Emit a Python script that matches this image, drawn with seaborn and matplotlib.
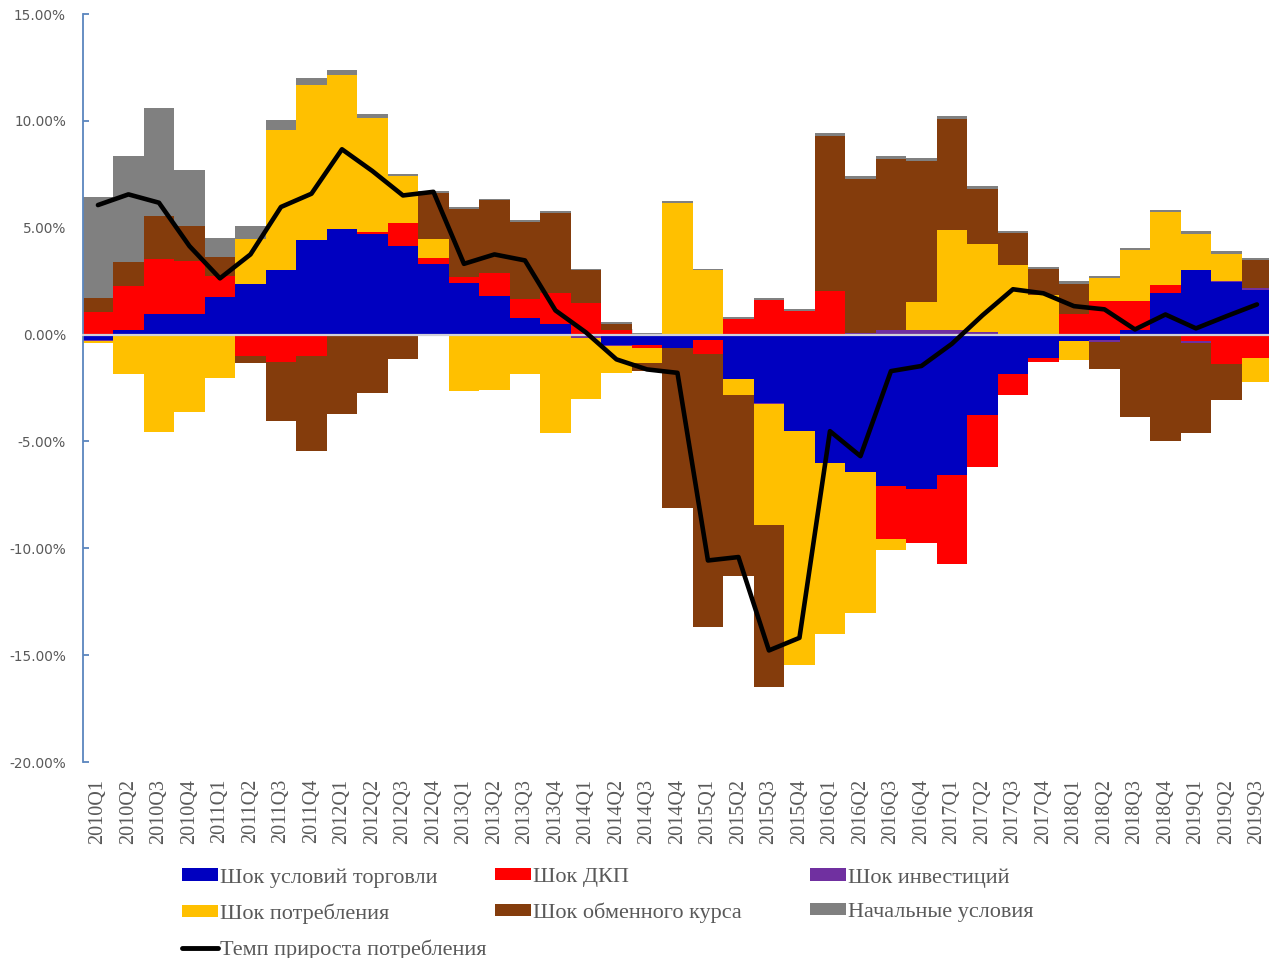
import numpy as np
import pandas as pd
import matplotlib
matplotlib.use("Agg")
import matplotlib.pyplot as plt
from matplotlib.patches import Patch
from matplotlib.lines import Line2D
from matplotlib.ticker import FuncFormatter, MultipleLocator, FixedLocator
import seaborn as sns

# ---- data: shock decomposition of consumption growth, % ----
quarters = [f"{y}Q{q}" for y in range(2010, 2020) for q in range(1, 5)][:39]

terms_of_trade = [-0.25, 0.20, 0.95, 0.95, 1.75, 2.35, 3.00, 4.41, 4.95, 4.69,
                  4.14, 3.28, 2.42, 1.80, 0.79, 0.50, -0.05, -0.50, -0.50, -0.62,
                  -0.26, -2.07, -3.19, -4.52, -6.00, -6.42, -7.09, -7.21, -6.58, -3.78,
                  -1.86, -1.09, -0.30, -0.27, 0.23, 1.95, 3.02, 2.46, 2.07]
monetary = [1.07, 2.06, 2.57, 2.49, 0.99, -1.00, -1.27, -1.00, -0.08, 0.11,
            1.06, 0.31, 0.27, 1.09, 0.89, 1.43, 1.46, 0.20, -0.12, 0.00,
            -0.67, 0.71, 1.61, 1.10, 2.04, 0.00, -2.49, -2.53, -4.17, -2.42,
            -0.97, -0.18, 0.97, 1.57, 1.33, 0.39, -0.31, -1.36, -1.11]
investment = [-0.03, -0.03, -0.02, -0.02, -0.02, 0.02, 0.00, 0.00, 0.00, 0.00,
              0.00, 0.00, 0.00, 0.00, 0.00, 0.00, -0.10, -0.05, 0.00, -0.03,
              0.00, 0.00, -0.05, 0.00, 0.00, 0.08, 0.20, 0.20, 0.23, 0.10,
              0.00, 0.00, 0.00, -0.10, -0.08, -0.08, -0.08, 0.03, 0.09]
consumption = [-0.12, -1.80, -4.52, -3.58, -2.02, 2.10, 6.57, 7.27, 7.19, 5.35,
               2.22, 0.90, -2.64, -2.60, -1.86, -4.62, -2.85, -1.24, -0.70, 6.17,
               3.00, -0.78, -5.66, -10.95, -8.00, -6.63, -0.52, 1.33, 4.68, 4.14,
               3.27, 1.87, -0.90, 1.06, 2.38, 3.40, 1.70, 1.30, -1.11]
exchange_rate = [0.62, 1.13, 2.03, 1.64, 0.89, -0.35, -2.78, -4.45, -3.65, -2.72,
                 -1.12, 2.14, 3.17, 3.39, 3.59, 3.76, 1.57, 0.30, -0.39, -7.45,
                 -12.76, -8.45, -7.60, 0.00, 7.25, 7.20, 8.02, 6.61, 5.20, 2.59,
                 1.48, 1.20, 1.41, -1.23, -3.80, -4.90, -4.23, -1.71, 1.32]
initial = [4.74, 4.96, 5.06, 2.60, 0.90, 0.61, 0.47, 0.34, 0.24, 0.15,
           0.10, 0.11, 0.11, 0.07, 0.07, 0.07, 0.05, 0.08, 0.06, 0.08,
           0.09, 0.11, 0.09, 0.08, 0.12, 0.12, 0.12, 0.12, 0.12, 0.14,
           0.11, 0.11, 0.12, 0.11, 0.11, 0.11, 0.12, 0.14, 0.12]
growth = [6.06, 6.56, 6.17, 4.14, 2.63, 3.75, 5.97, 6.59, 8.67, 7.65,
          6.51, 6.68, 3.31, 3.75, 3.47, 1.13, 0.10, -1.16, -1.63, -1.79,
          -10.57, -10.41, -14.78, -14.19, -4.52, -5.69, -1.71, -1.47, -0.43, 0.90,
          2.12, 1.93, 1.33, 1.18, 0.24, 0.94, 0.29, 0.86, 1.41]

series_names = ["Шок условий торговли", "Шок ДКП", "Шок инвестиций",
                "Шок потребления", "Шок обменного курса", "Начальные условия"]
line_name = "Темп прироста потребления"
series_values = [terms_of_trade, monetary, investment, consumption,
                 exchange_rate, initial]
colors = ["#0000C0", "#FF0000", "#7030A0", "#FFC000", "#843C0C", "#808080"]

# ---- figure ----
sns.set_style("white")
plt.rcParams["font.family"] = ["DejaVu Sans"]

W, H = 1269, 958
fig = plt.figure(figsize=(W / 100, H / 100), dpi=100)
ax_left, ax_top, ax_bottom = 82.7, 14, 762
ax = fig.add_axes([ax_left / W, 1 - ax_bottom / H,
                   (W - ax_left) / W, (ax_bottom - ax_top) / H])

n = len(quarters)
pos_base = np.zeros(n)
neg_base = np.zeros(n)
for name, vals, col in zip(series_names, series_values, colors):
    v = np.asarray(vals, dtype=float)
    pos = np.where(v > 0, v, 0.0)
    neg = np.where(v < 0, v, 0.0)
    sns.barplot(x=quarters, y=pos, order=quarters, bottom=pos_base, color=col,
                width=1.0, saturation=1, errorbar=None, linewidth=0, ax=ax,
                zorder=1)
    sns.barplot(x=quarters, y=neg, order=quarters, bottom=neg_base, color=col,
                width=1.0, saturation=1, errorbar=None, linewidth=0, ax=ax,
                zorder=1)
    pos_base += pos
    neg_base += neg

sns.lineplot(x=np.arange(n), y=growth, color="black", linewidth=3.3,
             ax=ax, zorder=4, sort=False)

# ---- axes styling ----
ax.set_ylim(-20, 15)
ax.set_xlim(-0.5, n - 0.5 - 3.2 / 30.5)
ax.set_xlabel("")
ax.set_ylabel("")
for s in ["top", "right"]:
    ax.spines[s].set_visible(False)
axis_blue = "#5B86BE"
ax.spines["left"].set_color(axis_blue)
ax.spines["left"].set_linewidth(1.3)
ax.spines["bottom"].set_position(("data", 0))
ax.spines["bottom"].set_color("#D0D0D8")
ax.spines["bottom"].set_linewidth(1.6)
ax.spines["bottom"].set_zorder(3)

ax.yaxis.set_major_locator(MultipleLocator(5))
ax.yaxis.set_major_formatter(FuncFormatter(lambda v, p: f"{v:.2f}%"))
ax.tick_params(axis="y", direction="in", length=4, width=1.3, color=axis_blue,
               labelsize=9.8, labelcolor="#595959", pad=12, left=True)

# category separators on the zero line every two quarters
ax.xaxis.set_minor_locator(FixedLocator(np.arange(1.5, n - 1, 2)))
ax.tick_params(axis="x", which="minor", direction="in", length=4.5, width=1.2,
               color="#D0D0D8", bottom=True)
ax.tick_params(axis="x", which="major", length=0, labelbottom=False)

sec = ax.secondary_xaxis(0.0)
sec.set_xticks(np.arange(n))
sec.set_xticklabels(quarters, rotation=90, family="Liberation Serif",
                    fontsize=14.5, color="#595959")
sec.tick_params(length=0, pad=12)
sec.spines["bottom"].set_visible(False)
ax.grid(False)

# ---- legend in three columns ----
handles = [Patch(facecolor=c, edgecolor="none") for c in colors]
line_handle = Line2D([], [], color="black", linewidth=3.5)
legend_cols = [
    ([handles[0], handles[3], line_handle], [series_names[0], series_names[3], line_name], 182),
    ([handles[1], handles[4]], [series_names[1], series_names[4]], 495),
    ([handles[2], handles[5]], [series_names[2], series_names[5]], 810),
]
for hs, ls, x0 in legend_cols:
    leg = fig.legend(hs, ls, loc="upper left", bbox_to_anchor=(x0 / W, 1 - 868 / H),
                     frameon=False, borderpad=0, borderaxespad=0,
                     handlelength=1.6, handleheight=0.47, handletextpad=0.13,
                     labelspacing=0.7,
                     prop={"family": "Liberation Serif", "size": 16})
    for t in leg.get_texts():
        t.set_color("#595959")

fig.savefig("out.png", dpi=100)
